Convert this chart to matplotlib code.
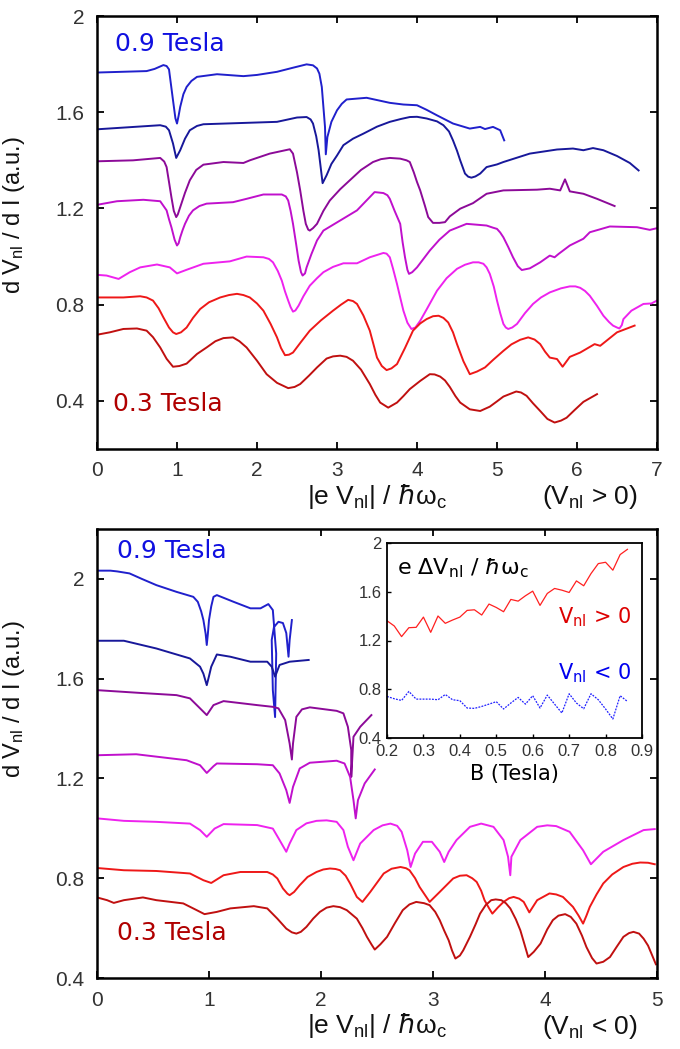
import matplotlib.pyplot as plt
import numpy as np

# ---- top panel: V_nl > 0, curves from 0.9 T (top) to 0.3 T (bottom) ----
pos1_x = [0, 0.62, 0.72, 0.83, 0.87, 0.90, 0.95, 0.98, 1.0, 1.02, 1.04, 1.08, 1.12, 1.18, 1.25, 1.50,
          1.83, 2.0, 2.25, 2.45, 2.62, 2.70, 2.75, 2.78, 2.81, 2.85, 2.86, 2.88, 2.93, 3.0, 3.06, 3.12,
          3.37, 3.66, 3.83, 4.0, 4.12, 4.25, 4.45, 4.66, 4.79, 4.85, 4.95, 5.04, 5.09]
pos1_y = [1.765, 1.771, 1.78, 1.796, 1.792, 1.778, 1.65, 1.575, 1.553, 1.585, 1.622, 1.675, 1.705, 1.73,
          1.747, 1.758, 1.75, 1.755, 1.768, 1.785, 1.799, 1.795, 1.782, 1.76, 1.705, 1.539, 1.425, 1.497,
          1.56, 1.608, 1.635, 1.653, 1.66, 1.639, 1.632, 1.629, 1.61, 1.587, 1.553, 1.532, 1.539, 1.530,
          1.539, 1.525, 1.483]

pos2_x = [0, 0.79, 0.86, 0.90, 0.95, 0.99, 1.04, 1.10, 1.16, 1.25, 1.33, 1.79, 2.25, 2.50, 2.62, 2.67,
          2.70, 2.74, 2.77, 2.80, 2.82, 2.87, 2.93, 3.0, 3.08, 3.2, 3.33, 3.5, 3.66, 3.8, 3.91, 4.0, 4.12,
          4.25, 4.33, 4.40, 4.45, 4.50, 4.54, 4.60, 4.64, 4.68, 4.73, 4.79, 4.87, 5.0, 5.08, 5.41, 5.75,
          5.95, 6.08, 6.20, 6.33, 6.50, 6.66, 6.77]
pos2_y = [1.529, 1.546, 1.54, 1.525, 1.47, 1.41, 1.442, 1.49, 1.525, 1.543, 1.55, 1.555, 1.56, 1.578,
          1.58, 1.57, 1.553, 1.50, 1.442, 1.36, 1.305, 1.338, 1.385, 1.42, 1.463, 1.49, 1.511, 1.54, 1.56,
          1.572, 1.58, 1.581, 1.574, 1.562, 1.546, 1.52, 1.483, 1.44, 1.40, 1.345, 1.332, 1.328, 1.333,
          1.345, 1.372, 1.383, 1.393, 1.428, 1.445, 1.449, 1.442, 1.451, 1.442, 1.418, 1.389, 1.358]

pos3_x = [0, 0.45, 0.79, 0.84, 0.87, 0.90, 0.93, 0.96, 0.99, 1.01, 1.04, 1.10, 1.16, 1.24, 1.33, 1.58,
          1.83, 1.91, 2.16, 2.41, 2.45, 2.50, 2.54, 2.58, 2.61, 2.64, 2.66, 2.70, 2.75, 2.83, 2.91, 3.04,
          3.16, 3.3, 3.45, 3.55, 3.66, 3.79, 3.87, 3.91, 3.96, 4.0, 4.04, 4.10, 4.14, 4.20, 4.28, 4.35,
          4.41, 4.54, 4.70, 4.87, 5.08, 5.50, 5.66, 5.79, 5.85, 5.91, 6.08, 6.25, 6.47]
pos3_y = [1.396, 1.40, 1.41, 1.395, 1.372, 1.31, 1.247, 1.19, 1.164, 1.175, 1.205, 1.265, 1.317, 1.36,
          1.382, 1.393, 1.389, 1.40, 1.428, 1.446, 1.428, 1.35, 1.275, 1.19, 1.136, 1.112, 1.108, 1.118,
          1.136, 1.19, 1.233, 1.28, 1.317, 1.36, 1.393, 1.405, 1.41, 1.407, 1.40, 1.393, 1.35, 1.31,
          1.275, 1.21, 1.164, 1.14, 1.14, 1.143, 1.167, 1.199, 1.222, 1.261, 1.275, 1.278, 1.282, 1.275,
          1.321, 1.271, 1.261, 1.24, 1.21]

pos4_x = [0, 0.25, 0.58, 0.79, 0.87, 0.90, 0.93, 0.97, 1.0, 1.02, 1.04, 1.07, 1.10, 1.15, 1.20, 1.28,
          1.37, 1.70, 1.87, 2.08, 2.31, 2.36, 2.39, 2.42, 2.45, 2.49, 2.52, 2.55, 2.57, 2.60, 2.62, 2.68,
          2.75, 2.83, 3.04, 3.25, 3.47, 3.58, 3.63, 3.66, 3.72, 3.79, 3.82, 3.85, 3.88, 3.90, 3.94, 4.0,
          4.08, 4.16, 4.28, 4.41, 4.62, 4.87, 4.95, 5.0, 5.04, 5.08, 5.14, 5.20, 5.26, 5.31, 5.41, 5.54,
          5.66, 5.72, 5.77, 5.91, 6.08, 6.16, 6.41, 6.75, 6.91, 7.0]
pos4_y = [1.215, 1.230, 1.236, 1.23, 1.192, 1.155, 1.122, 1.07, 1.046, 1.055, 1.080, 1.11, 1.136, 1.17,
          1.192, 1.21, 1.22, 1.226, 1.24, 1.258, 1.258, 1.25, 1.233, 1.19, 1.136, 1.05, 0.983, 0.935,
          0.921, 0.93, 0.955, 1.01, 1.067, 1.108, 1.15, 1.192, 1.268, 1.264, 1.255, 1.24, 1.19, 1.136,
          1.06, 0.997, 0.945, 0.928, 0.935, 0.955, 0.99, 1.025, 1.07, 1.108, 1.136, 1.129, 1.12, 1.115,
          1.10, 1.08, 1.04, 0.997, 0.96, 0.944, 0.951, 0.976, 1.004, 0.997, 1.011, 1.046, 1.074, 1.101,
          1.125, 1.122, 1.111, 1.118]

pos5_x = [0, 0.12, 0.27, 0.41, 0.54, 0.75, 0.91, 1.0, 1.12, 1.33, 1.66, 1.87, 2.08, 2.15, 2.20, 2.26,
          2.31, 2.35, 2.39, 2.42, 2.45, 2.48, 2.52, 2.58, 2.66, 2.75, 2.83, 2.95, 3.08, 3.25, 3.41, 3.58,
          3.62, 3.66, 3.70, 3.75, 3.79, 3.83, 3.88, 3.93, 3.98, 4.04, 4.12, 4.25, 4.37, 4.50, 4.60, 4.70,
          4.77, 4.83, 4.87, 4.91, 4.96, 5.0, 5.04, 5.08, 5.11, 5.14, 5.19, 5.25, 5.35, 5.45, 5.55, 5.66,
          5.80, 5.91, 5.98, 6.04, 6.10, 6.16, 6.25, 6.33, 6.40, 6.45, 6.50, 6.53, 6.56, 6.58, 6.68, 6.83,
          6.93, 7.0]
pos5_y = [0.924, 0.921, 0.907, 0.935, 0.955, 0.967, 0.955, 0.930, 0.945, 0.970, 0.980, 1.0, 0.997, 0.99,
          0.976, 0.94, 0.90, 0.855, 0.817, 0.79, 0.771, 0.776, 0.796, 0.835, 0.879, 0.91, 0.935, 0.957,
          0.972, 0.972, 0.997, 1.015, 1.012, 0.997, 0.95, 0.886, 0.83, 0.775, 0.725, 0.699, 0.705, 0.733,
          0.78, 0.858, 0.91, 0.949, 0.966, 0.976, 0.976, 0.970, 0.955, 0.928, 0.875, 0.817, 0.765, 0.72,
          0.705, 0.699, 0.705, 0.72, 0.765, 0.803, 0.83, 0.851, 0.868, 0.876, 0.876, 0.870, 0.857, 0.837,
          0.795, 0.754, 0.728, 0.713, 0.705, 0.701, 0.715, 0.74, 0.775, 0.803, 0.805, 0.817]

pos6_x = [0, 0.33, 0.54, 0.62, 0.70, 0.77, 0.83, 0.90, 0.95, 0.99, 1.05, 1.12, 1.20, 1.29, 1.40, 1.54,
          1.65, 1.75, 1.83, 1.91, 2.0, 2.08, 2.17, 2.25, 2.30, 2.35, 2.40, 2.45, 2.55, 2.66, 2.80, 2.95,
          3.05, 3.14, 3.20, 3.25, 3.33, 3.41, 3.46, 3.50, 3.56, 3.62, 3.68, 3.75, 3.85, 3.95, 4.04, 4.12,
          4.20, 4.27, 4.33, 4.39, 4.45, 4.50, 4.58, 4.66, 4.75, 4.85, 4.95, 5.08, 5.18, 5.29, 5.39, 5.47,
          5.54, 5.60, 5.66, 5.75, 5.82, 5.91, 6.04, 6.22, 6.29, 6.50, 6.72]
pos6_y = [0.830, 0.830, 0.835, 0.83, 0.817, 0.785, 0.747, 0.705, 0.685, 0.678, 0.685, 0.705, 0.745,
          0.782, 0.81, 0.830, 0.84, 0.845, 0.84, 0.830, 0.805, 0.775, 0.72, 0.664, 0.62, 0.590, 0.592,
          0.601, 0.645, 0.692, 0.735, 0.775, 0.80, 0.820, 0.815, 0.803, 0.755, 0.692, 0.63, 0.580, 0.545,
          0.528, 0.535, 0.553, 0.62, 0.692, 0.722, 0.740, 0.752, 0.754, 0.745, 0.726, 0.685, 0.636, 0.565,
          0.511, 0.522, 0.539, 0.57, 0.608, 0.635, 0.654, 0.664, 0.655, 0.636, 0.605, 0.580, 0.574, 0.542,
          0.583, 0.601, 0.636, 0.629, 0.685, 0.713]

pos7_x = [0, 0.16, 0.33, 0.50, 0.62, 0.70, 0.79, 0.87, 0.95, 1.03, 1.12, 1.25, 1.37, 1.48, 1.58, 1.70,
          1.78, 1.87, 2.0, 2.12, 2.25, 2.39, 2.47, 2.54, 2.65, 2.75, 2.87, 2.95, 3.04, 3.12, 3.20, 3.30,
          3.41, 3.48, 3.54, 3.64, 3.75, 3.83, 3.91, 4.04, 4.16, 4.22, 4.29, 4.35, 4.41, 4.48, 4.54, 4.66,
          4.79, 4.91, 5.0, 5.08, 5.24, 5.30, 5.37, 5.45, 5.54, 5.63, 5.72, 5.80, 5.87, 5.97, 6.08, 6.25]
pos7_y = [0.675, 0.685, 0.699, 0.701, 0.692, 0.665, 0.622, 0.575, 0.542, 0.545, 0.555, 0.595, 0.622,
          0.648, 0.661, 0.664, 0.648, 0.622, 0.567, 0.511, 0.475, 0.453, 0.458, 0.470, 0.505, 0.539,
          0.576, 0.585, 0.588, 0.583, 0.567, 0.53, 0.470, 0.425, 0.393, 0.372, 0.393, 0.42, 0.449, 0.483,
          0.511, 0.51, 0.501, 0.485, 0.458, 0.42, 0.393, 0.365, 0.358, 0.376, 0.398, 0.418, 0.439, 0.435,
          0.421, 0.39, 0.358, 0.325, 0.310, 0.318, 0.330, 0.362, 0.396, 0.428]

# ---- bottom panel: V_nl < 0 ----
neg1_x = [0, 0.12, 0.18, 0.29, 0.40, 0.53, 0.71, 0.86, 0.90, 0.93, 0.95, 0.97, 0.98, 0.99, 1.0, 1.02,
          1.04, 1.07, 1.22, 1.37, 1.46, 1.53, 1.57, 1.60, 1.59, 1.57, 1.56, 1.58, 1.62, 1.66, 1.69, 1.71,
          1.72, 1.74]
neg1_y = [2.033, 2.033, 2.03, 2.022, 2.0, 1.975, 1.948, 1.928, 1.908, 1.87, 1.835, 1.78, 1.735, 1.78,
          1.835, 1.89, 1.928, 1.935, 1.908, 1.882, 1.882, 1.899, 1.875, 1.701, 1.446, 1.554, 1.755, 1.807,
          1.828, 1.823, 1.783, 1.688, 1.755, 1.835]

neg2_x = [0, 0.24, 0.53, 0.83, 0.92, 0.95, 0.98, 1.0, 1.02, 1.07, 1.19, 1.37, 1.52, 1.56, 1.59, 1.63,
          1.72, 1.89]
neg2_y = [1.752, 1.752, 1.721, 1.681, 1.648, 1.62, 1.574, 1.61, 1.648, 1.697, 1.688, 1.668, 1.668, 1.648,
          1.608, 1.655, 1.668, 1.675]

neg3_x = [0, 0.38, 0.71, 0.83, 0.92, 0.98, 1.04, 1.13, 1.43, 1.57, 1.62, 1.68, 1.72, 1.74, 1.75, 1.78,
          1.83, 1.90, 2.14, 2.20, 2.24, 2.27, 2.27, 2.29, 2.35, 2.45]
neg3_y = [1.554, 1.543, 1.534, 1.521, 1.481, 1.454, 1.494, 1.51, 1.494, 1.487, 1.481, 1.434, 1.34, 1.276,
          1.34, 1.447, 1.477, 1.485, 1.471, 1.461, 1.407, 1.314, 1.206, 1.367, 1.407, 1.454]

neg4_x = [0, 0.35, 0.80, 0.92, 0.98, 1.04, 1.07, 1.43, 1.57, 1.63, 1.69, 1.72, 1.75, 1.81, 1.90, 2.14,
          2.21, 2.26, 2.29, 2.31, 2.33, 2.39, 2.48]
neg4_y = [1.293, 1.297, 1.273, 1.253, 1.222, 1.249, 1.26, 1.257, 1.253, 1.22, 1.153, 1.102, 1.166, 1.24,
          1.263, 1.271, 1.26, 1.206, 1.113, 1.04, 1.113, 1.18, 1.236]

neg5_x = [0, 0.24, 0.53, 0.83, 0.92, 0.98, 1.05, 1.13, 1.43, 1.57, 1.63, 1.69, 1.72, 1.78, 1.87, 1.96,
          2.05, 2.14, 2.20, 2.24, 2.29, 2.35, 2.47, 2.55, 2.62, 2.68, 2.72, 2.77, 2.80, 2.84, 2.91, 2.99,
          3.06, 3.10, 3.14, 3.21, 3.33, 3.43, 3.54, 3.63, 3.67, 3.69, 3.70, 3.78, 3.93, 4.02, 4.10, 4.22,
          4.34, 4.41, 4.52, 4.70, 4.88, 4.98]
neg5_y = [1.040, 1.030, 1.026, 1.019, 0.993, 0.966, 0.999, 1.017, 1.013, 0.999, 0.953, 0.906, 0.939,
          0.993, 1.02, 1.03, 1.032, 1.026, 0.993, 0.926, 0.872, 0.939, 0.993, 1.012, 1.019, 1.01, 0.986,
          0.912, 0.845, 0.899, 0.946, 0.946, 0.906, 0.865, 0.906, 0.953, 1.006, 1.019, 1.006, 0.953, 0.886,
          0.812, 0.886, 0.953, 1.006, 1.012, 1.009, 0.986, 0.912, 0.856, 0.906, 0.953, 0.993, 0.997]

neg6_x = [0, 0.24, 0.53, 0.83, 0.95, 1.02, 1.13, 1.28, 1.52, 1.57, 1.61, 1.66, 1.70, 1.72, 1.76, 1.81,
          1.88, 1.96, 2.02, 2.08, 2.13, 2.17, 2.22, 2.26, 2.32, 2.37, 2.44, 2.56, 2.63, 2.71, 2.76, 2.79,
          2.84, 2.88, 2.97, 3.06, 3.18, 3.24, 3.30, 3.35, 3.39, 3.43, 3.46, 3.50, 3.53, 3.58, 3.63, 3.68,
          3.72, 3.77, 3.81, 3.86, 3.93, 4.04, 4.10, 4.16, 4.25, 4.30, 4.34, 4.37, 4.40, 4.46, 4.52, 4.60,
          4.70, 4.78, 4.85, 4.92, 4.98]
neg6_y = [0.841, 0.832, 0.829, 0.819, 0.792, 0.781, 0.812, 0.825, 0.825, 0.815, 0.799, 0.759, 0.738,
          0.732, 0.745, 0.772, 0.805, 0.825, 0.835, 0.839, 0.837, 0.832, 0.81, 0.779, 0.725, 0.705, 0.745,
          0.819, 0.838, 0.845, 0.84, 0.832, 0.80, 0.765, 0.705, 0.745, 0.799, 0.81, 0.812, 0.80, 0.785,
          0.75, 0.712, 0.68, 0.658, 0.683, 0.705, 0.72, 0.725, 0.718, 0.705, 0.663, 0.712, 0.739, 0.735,
          0.725, 0.685, 0.65, 0.618, 0.65, 0.685, 0.735, 0.779, 0.815, 0.845, 0.858, 0.863, 0.862, 0.856]

neg7_x = [0, 0.09, 0.15, 0.24, 0.41, 0.53, 0.77, 0.89, 0.96, 1.07, 1.19, 1.40, 1.52, 1.61, 1.69, 1.74,
          1.78, 1.82, 1.87, 1.93, 1.99, 2.05, 2.11, 2.17, 2.23, 2.32, 2.37, 2.41, 2.45, 2.48, 2.53, 2.59,
          2.66, 2.73, 2.79, 2.85, 2.92, 2.97, 3.02, 3.06, 3.10, 3.14, 3.17, 3.20, 3.24, 3.27, 3.33, 3.38,
          3.42, 3.47, 3.52, 3.56, 3.61, 3.65, 3.69, 3.74, 3.78, 3.82, 3.85, 3.90, 3.96, 4.02, 4.07, 4.12,
          4.18, 4.23, 4.28, 4.33, 4.37, 4.42, 4.46, 4.52, 4.58, 4.64, 4.70, 4.75, 4.79, 4.84, 4.88, 4.92,
          4.95, 4.99]
neg7_y = [0.723, 0.712, 0.701, 0.712, 0.723, 0.712, 0.699, 0.672, 0.656, 0.665, 0.679, 0.688, 0.679,
          0.638, 0.598, 0.583, 0.578, 0.585, 0.605, 0.638, 0.665, 0.682, 0.688, 0.684, 0.672, 0.638, 0.60,
          0.565, 0.535, 0.514, 0.535, 0.565, 0.62, 0.672, 0.695, 0.705, 0.70, 0.692, 0.665, 0.632, 0.59,
          0.551, 0.51, 0.478, 0.49, 0.511, 0.565, 0.615, 0.658, 0.692, 0.712, 0.715, 0.712, 0.70, 0.679,
          0.635, 0.591, 0.53, 0.484, 0.505, 0.538, 0.595, 0.632, 0.65, 0.656, 0.645, 0.618, 0.57, 0.524,
          0.48, 0.458, 0.465, 0.484, 0.525, 0.565, 0.58, 0.585, 0.578, 0.558, 0.53, 0.498, 0.455]

# ---- inset: e*dV_nl/hw_c vs B ----
inset_b = [0.20, 0.22, 0.24, 0.26, 0.28, 0.30, 0.32, 0.34, 0.36, 0.38, 0.40, 0.42, 0.44, 0.46, 0.48,
           0.50, 0.52, 0.54, 0.56, 0.58, 0.60, 0.62, 0.64, 0.66, 0.68, 0.70, 0.72, 0.74, 0.76, 0.78,
           0.80, 0.82, 0.84, 0.86]
inset_pos = [1.362, 1.319, 1.232, 1.305, 1.308, 1.392, 1.267, 1.401, 1.341, 1.368, 1.392, 1.447, 1.452,
             1.409, 1.499, 1.471, 1.436, 1.537, 1.523, 1.567, 1.605, 1.488, 1.586, 1.627, 1.613, 1.594,
             1.689, 1.649, 1.749, 1.831, 1.842, 1.777, 1.905, 1.948]
inset_neg = [0.741, 0.722, 0.708, 0.782, 0.719, 0.719, 0.719, 0.714, 0.757, 0.714, 0.706, 0.646, 0.643,
             0.659, 0.678, 0.698, 0.638, 0.687, 0.733, 0.678, 0.747, 0.646, 0.752, 0.678, 0.605, 0.763,
             0.687, 0.640, 0.763, 0.714, 0.638, 0.556, 0.747, 0.700]

colors = ['#2020cc', '#18189a', '#8c0a98', '#c010cc', '#ee22ee', '#ee1818', '#c01010']

pos_x = [pos1_x, pos2_x, pos3_x, pos4_x, pos5_x, pos6_x, pos7_x]
pos_y = [pos1_y, pos2_y, pos3_y, pos4_y, pos5_y, pos6_y, pos7_y]
neg_x = [neg1_x, neg2_x, neg3_x, neg4_x, neg5_x, neg6_x, neg7_x]
neg_y = [neg1_y, neg2_y, neg3_y, neg4_y, neg5_y, neg6_y, neg7_y]

tick_font = ['Liberation Sans', 'DejaVu Sans']
label_font = ['Liberation Sans', 'DejaVu Sans']
nl = r'$\mathregular{_{nl}}$'
xlab = '|e V' + nl + r'| / $\hbar$ω' + r'$\mathregular{_c}$'

W, H = 680, 1049
fig = plt.figure(figsize=(W / 100, H / 100), dpi=100)
ax1 = fig.add_axes([97 / W, 1 - 449 / H, 560 / W, 433 / H])
ax2 = fig.add_axes([97 / W, 1 - 978 / H, 560 / W, 449 / H])
ins = fig.add_axes([387 / W, 1 - 738 / H, 255 / W, 195 / H])


def style(ax, lw=1.8, size=15, pad=9):
    for s in ax.spines.values():
        s.set_linewidth(lw)
    ax.tick_params(direction='in', length=5, width=1.3, top=True, right=True,
                   labelsize=size, labelcolor='#333333', pad=pad)
    for lab in ax.get_xticklabels() + ax.get_yticklabels():
        lab.set_family(tick_font)


for xs, ys, c in zip(pos_x, pos_y, colors):
    ax1.plot(xs, ys, color=c, lw=1.4)
ax1.set_xlim(0, 7)
ax1.set_ylim(0.2, 2.0)
ax1.set_xticks(range(8))
ax1.set_yticks([0.4, 0.8, 1.2, 1.6, 2.0], ['0.4', '0.8', '1.2', '1.6', '2'])
style(ax1)
ax1.set_ylabel('d V' + nl + ' / d I (a.u.)', family=label_font, fontsize=17, color='#111111')
ax1.yaxis.set_label_coords(-0.125, 0.54)
ax1.set_xlabel(xlab, family=label_font, fontsize=19, color='#111111', labelpad=1)
ax1.text(0.88, -0.112, '(V' + nl + ' > 0)', transform=ax1.transAxes, family=label_font,
         fontsize=19, color='#111111', ha='center', va='center')
ax1.text(0.032, 0.935, '0.9 Tesla', transform=ax1.transAxes, fontsize=18, color='#1010e0',
         va='center')
ax1.text(0.028, 0.105, '0.3 Tesla', transform=ax1.transAxes, fontsize=18, color='#b00000',
         va='center')

for xs, ys, c in zip(neg_x, neg_y, colors):
    ax2.plot(xs, ys, color=c, lw=1.4)
ax2.set_xlim(0, 5)
ax2.set_ylim(0.4, 2.2)
ax2.set_xticks(range(6))
ax2.set_yticks([0.4, 0.8, 1.2, 1.6, 2.0], ['0.4', '0.8', '1.2', '1.6', '2'])
style(ax2)
ax2.set_ylabel('d V' + nl + ' / d I (a.u.)', family=label_font, fontsize=17, color='#111111')
ax2.yaxis.set_label_coords(-0.125, 0.62)
ax2.set_xlabel(xlab, family=label_font, fontsize=19, color='#111111', labelpad=1)
ax2.text(0.88, -0.109, '(V' + nl + ' < 0)', transform=ax2.transAxes, family=label_font,
         fontsize=19, color='#111111', ha='center', va='center')
ax2.text(0.035, 0.95, '0.9 Tesla', transform=ax2.transAxes, fontsize=18, color='#1010e0',
         va='center')
ax2.text(0.035, 0.1, '0.3 Tesla', transform=ax2.transAxes, fontsize=18, color='#b00000',
         va='center')

ins.set_facecolor('white')
ins.plot(inset_b, inset_pos, color='#ff2020', lw=0.9)
ins.plot(inset_b, inset_neg, color='#2020ff', lw=0.9, ls=(0, (1.5, 1)))
ins.set_xlim(0.2, 0.9)
ins.set_ylim(0.4, 2.0)
ins.set_xticks(np.arange(2, 10) / 10, ['0.2', '0.3', '0.4', '0.5', '0.6', '0.7', '0.8', '0.9'])
ins.set_yticks([0.4, 0.8, 1.2, 1.6, 2.0], ['0.4', '0.8', '1.2', '1.6', '2'])
for s in ins.spines.values():
    s.set_linewidth(1.3)
ins.tick_params(direction='in', length=3, width=1, labelsize=12, labelcolor='#333333', pad=4)
for lab in ins.get_xticklabels() + ins.get_yticklabels():
    lab.set_family('Liberation Sans')
ins.set_xlabel('B (Tesla)', fontsize=15, labelpad=4)
ins.text(0.04, 0.87, r'e $\Delta$V' + nl + r' / $\hbar$ω' + r'$\mathregular{_c}$',
         transform=ins.transAxes, fontsize=16, va='center')
ins.text(0.67, 0.62, 'V' + nl + ' > 0', transform=ins.transAxes, fontsize=15, color='#dd0000',
         va='center')
ins.text(0.67, 0.33, 'V' + nl + ' < 0', transform=ins.transAxes, fontsize=15, color='#0000ee',
         va='center')

fig.savefig('out.png', dpi=100)
